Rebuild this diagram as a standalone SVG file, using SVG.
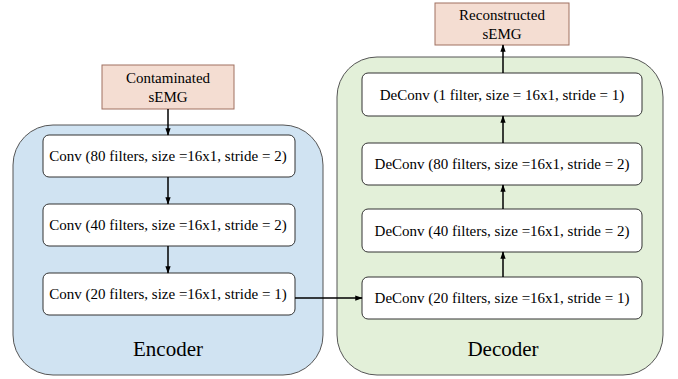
<svg xmlns="http://www.w3.org/2000/svg" width="678" height="379" viewBox="0 0 678 379">
<defs>
<style>
text{font-family:'Liberation Serif','Times New Roman',Times,serif;fill:#000;text-anchor:middle}
.t{font-size:15px}
.big{font-size:21px}
.node{fill:#fff;stroke:#333;stroke-width:1}
.io{fill:#f4ddd2;stroke:#a07060;stroke-width:1}
.c{stroke:#000;stroke-width:1.5;fill:none;marker-end:url(#ah)}
</style>
<marker id="ah" viewBox="0 0 10 10" refX="9" refY="5" markerWidth="5" markerHeight="5" orient="auto"><path d="M0,1.5 L10,5 L0,8.5 z" fill="#000"/></marker>
</defs>
<rect width="678" height="379" fill="#fff"/>
<g id="encoder">
<rect x="13" y="125" width="310" height="250" rx="40" fill="#d0e3f2" stroke="#555" stroke-width="1"/>
<text class="big" x="168" y="356">Encoder</text>
</g>
<g id="decoder">
<rect x="337" y="57" width="326" height="318" rx="40" fill="#e3f0d9" stroke="#555" stroke-width="1"/>
<text class="big" x="503" y="356">Decoder</text>
</g>
<g id="contaminated">
<rect class="io" x="102" y="65" width="132" height="44"/>
<text class="t" x="168" y="83">Contaminated</text>
<text class="t" x="168" y="102">sEMG</text>
</g>
<g id="conv80">
<rect class="node" x="43" y="135" width="252" height="42" rx="6"/>
<text class="t" x="168" y="161">Conv (80 filters, size =16x1, stride = 2)</text>
</g>
<g id="conv40">
<rect class="node" x="43" y="204" width="252" height="42" rx="6"/>
<text class="t" x="168" y="230">Conv (40 filters, size =16x1, stride = 2)</text>
</g>
<g id="conv20">
<rect class="node" x="43" y="273" width="252" height="42" rx="6"/>
<text class="t" x="168" y="299">Conv (20 filters, size =16x1, stride = 1)</text>
</g>
<g id="reconstructed">
<rect class="io" x="435" y="3" width="134" height="42"/>
<text class="t" x="502" y="20">Reconstructed</text>
<text class="t" x="502" y="39">sEMG</text>
</g>
<g id="deconv1">
<rect class="node" x="362" y="73" width="280" height="43" rx="6"/>
<text class="t" x="502" y="100">DeConv (1 filter, size = 16x1, stride = 1)</text>
</g>
<g id="deconv80">
<rect class="node" x="362" y="143" width="280" height="42" rx="6"/>
<text class="t" x="502" y="169">DeConv (80 filters, size =16x1, stride = 2)</text>
</g>
<g id="deconv40">
<rect class="node" x="362" y="209" width="280" height="43" rx="6"/>
<text class="t" x="502" y="236">DeConv (40 filters, size =16x1, stride = 2)</text>
</g>
<g id="deconv20">
<rect class="node" x="362" y="277" width="280" height="42" rx="6"/>
<text class="t" x="502" y="303">DeConv (20 filters, size =16x1, stride = 1)</text>
</g>
<g id="connectors">
<line class="c" x1="168" y1="109" x2="168" y2="135"/>
<line class="c" x1="168" y1="177" x2="168" y2="204"/>
<line class="c" x1="168" y1="246" x2="168" y2="273"/>
<line class="c" x1="295" y1="298" x2="362" y2="298"/>
<line class="c" x1="503" y1="277" x2="503" y2="252"/>
<line class="c" x1="503" y1="209" x2="503" y2="185"/>
<line class="c" x1="503" y1="143" x2="503" y2="116"/>
<line class="c" x1="503" y1="73" x2="503" y2="45"/>
</g>
</svg>
